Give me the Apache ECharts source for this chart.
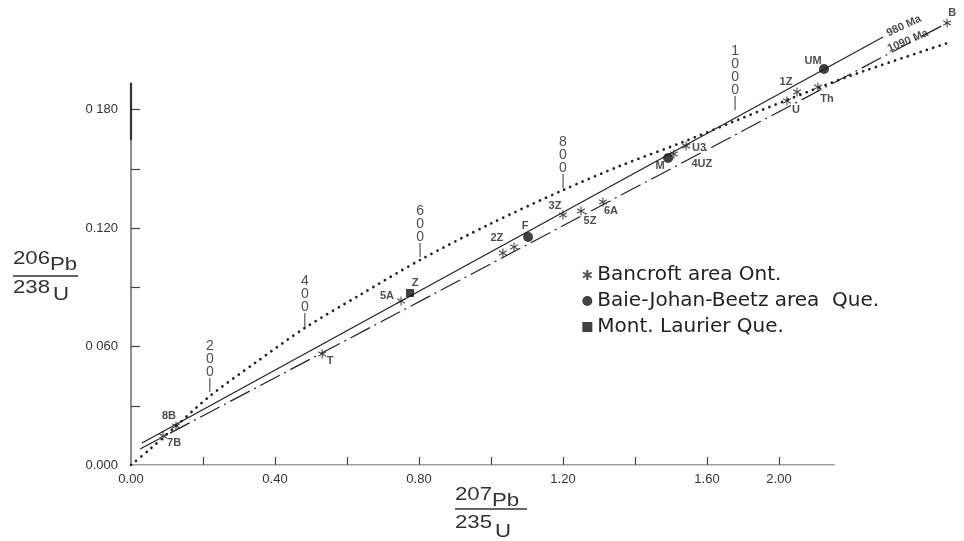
<!DOCTYPE html>
<html><head><meta charset="utf-8">
<script src="https://cdn.jsdelivr.net/npm/echarts@6/dist/echarts.min.js"></script>
<style>html,body{margin:0;padding:0;background:#fff}#c{width:964px;height:541px}</style>
</head><body><div id="c"></div>
<script>
// ---- axis ticks / labels ----
const xTickValues = [0.2, 0.4, 0.6, 0.8, 1.0, 1.2, 1.4, 1.6, 1.8];
const xLabelValues = [0, 0.4, 0.8, 1.2, 1.6, 1.8];
const xLabelTexts = ['0.00', '0.40', '0.80', '1.20', '1.60', '2.00'];
const yTickValues = [0.03, 0.06, 0.09, 0.12, 0.15, 0.18];
const yLabelValues = [0, 0.06, 0.12, 0.18];
const yLabelTexts = ['0.000', '0 060', '0.120', '0 180'];
const xAxisLineEnd = 1.955;
const yAxisLineEnd = 0.1935;
const yAxisThickStart = 0.1646;

// ---- data: Bancroft area Ont. (asterisks) ----
const bancroftNames = ['7B', '8B', 'T', '5A', '2Z', '', '3Z', '5Z', '6A', '4UZ', 'U3', 'U', '1Z', 'Th', 'B'];
const bancroftX = [0.089, 0.125, 0.531, 0.750, 1.033, 1.064, 1.200, 1.250, 1.311, 1.508, 1.542, 1.822, 1.850, 1.908, 2.267];
const bancroftY = [0.0147, 0.0197, 0.0562, 0.0830, 0.1073, 0.1104, 0.1266, 0.1286, 0.1332, 0.1575, 0.1615, 0.1843, 0.1889, 0.1914, 0.2238];

// ---- Baie-Johan-Beetz area Que. (circles) ----
const bjbNames = ['F', 'M', 'UM'];
const bjbX = [1.103, 1.492, 1.925];
const bjbY = [0.1154, 0.1554, 0.2005];

// ---- Mont. Laurier Que. (square) ----
const mlNames = ['Z'];
const mlX = [0.775];
const mlY = [0.0871];

// ---- concordia curve (dotted) ----
const concordiaX = [0, 0.053, 0.122, 0.219, 0.344, 0.483, 0.636, 0.803, 0.997, 1.200, 1.358, 1.533, 1.678, 1.822, 1.997, 2.269];
const concordiaY = [0, 0.0081, 0.0192, 0.0349, 0.0516, 0.0694, 0.0861, 0.1038, 0.1220, 0.1392, 0.1514, 0.1635, 0.1742, 0.1848, 0.1970, 0.2137];

// ---- age marks on concordia ----
const ageLabels = ['200', '400', '600', '800', '1000'];
const ageX = [0.219, 0.483, 0.803, 1.200, 1.678];
const ageY = [0.0370, 0.0699, 0.1053, 0.1403, 0.1797];

// ---- discordia chords ----
const chord980X = [0.0306, 2.089];
const chord980Y = [0.0111, 0.2167];
const chord1090X = [0.025, 2.267];
const chord1090Y = [0.0081, 0.2238];
const chordLabelTexts = ['980 Ma', '1090 Ma'];
const chordLabelX = [2.147, 2.158];
const chordLabelY = [0.2223, 0.2147];

// ---- styling (label offsets in px) ----
const labelOffsets = {
  '7B': [11, 7], '8B': [-7, -10], 'T': [8, 7], '5A': [-14, -5], '2Z': [-6, -15],
  '3Z': [-8, -9], '5Z': [9, 10], '6A': [8, 9], '4UZ': [28, 10], 'U3': [13, 2],
  'U': [9, 9], '1Z': [-11, -10], 'Th': [9, 12], 'B': [5, -10],
  'F': [-3, -11], 'M': [-8, 8], 'UM': [-11, -8], 'Z': [5, -10]
};
const FONT = "'Liberation Sans', Arial, sans-serif";
const INK = '#222';
const ASTER = 'path://M0,-5L0,5M-4.33,-2.5L4.33,2.5M-4.33,2.5L4.33,-2.5';

function zip(xs, ys) { return xs.map((x, i) => [x, ys[i]]); }
function pts(names, xs, ys) {
  return xs.map((x, i) => ({
    value: [x, ys[i]], name: names[i],
    label: { offset: labelOffsets[names[i]] || [0, 0] }
  }));
}
const ptLabel = {
  show: true, position: 'inside', formatter: p => p.name,
  fontFamily: FONT, fontWeight: 'bold', fontSize: 11, color: INK
};
function titleText(txt, left, top) {
  return { type: 'text', left: left, top: top, scaleX: 1.17, originX: 0,
    style: { text: txt, font: "19px " + FONT, fill: '#333' } };
}

const chart = echarts.init(document.getElementById('c'), null, { renderer: 'canvas' });
const option = {
  backgroundColor: '#fff',
  animation: false,
  grid: { left: 131, right: 5, top: 10.75, bottom: 76 },
  xAxis: {
    type: 'value', min: 0, max: 2.3,
    splitLine: { show: false },
    axisLine: { show: false },
    axisTick: { show: true, inside: true, length: 8, customValues: xTickValues, lineStyle: { color: '#444', width: 1.2 } },
    axisLabel: {
      customValues: xLabelValues, margin: 8,
      formatter: v => { const i = xLabelValues.findIndex(t => Math.abs(t - v) < 1e-6); return i >= 0 ? xLabelTexts[i] : ''; },
      fontFamily: FONT, fontSize: 13, color: '#333'
    }
  },
  yAxis: {
    type: 'value', min: 0, max: 0.23,
    splitLine: { show: false },
    axisLine: { show: false },
    axisTick: { show: true, inside: true, length: 9, customValues: yTickValues, lineStyle: { color: '#444', width: 1.2 } },
    axisLabel: {
      customValues: yLabelValues, margin: 13,
      formatter: v => { const i = yLabelValues.findIndex(t => Math.abs(t - v) < 1e-6); return i >= 0 ? yLabelTexts[i] : ''; },
      fontFamily: FONT, fontSize: 13, color: '#333'
    }
  },
  legend: {
    orient: 'vertical', left: 577, top: 260, itemGap: 6, itemWidth: 10, itemHeight: 10,
    textStyle: { fontFamily: "'DejaVu Sans', sans-serif", fontSize: 20, color: INK },
    data: [
      { name: 'Bancroft area Ont.', icon: ASTER },
      { name: 'Baie-Johan-Beetz area  Que.', icon: 'circle' },
      { name: 'Mont. Laurier Que.', icon: 'rect' }
    ],
    selectedMode: false
  },
  series: [
    {
      name: 'axes', type: 'line', silent: true, showSymbol: false,
      data: [[xAxisLineEnd, 0], [0, 0], [0, yAxisLineEnd]],
      lineStyle: { color: '#444', width: 1.2 }, z: 1
    },
    {
      name: 'axisTop', type: 'line', silent: true, showSymbol: false,
      data: [[0, yAxisThickStart], [0, yAxisLineEnd]],
      lineStyle: { color: '#333', width: 2.2 }, z: 1
    },
    {
      name: 'concordia', type: 'line', data: zip(concordiaX, concordiaY), smooth: 0.3,
      showSymbol: false, silent: true,
      lineStyle: { color: INK, width: 2.7, type: [0.1, 6.6], cap: 'round' }, z: 2
    },
    {
      name: '980 Ma', type: 'line', data: zip(chord980X, chord980Y), showSymbol: false, silent: true,
      lineStyle: { color: INK, width: 1.2 }, z: 2
    },
    {
      name: '1090 Ma', type: 'line', data: zip(chord1090X, chord1090Y), showSymbol: false, silent: true,
      lineStyle: { color: INK, width: 1.2, type: [22, 5, 2, 5] }, z: 2
    },
    {
      name: 'ages', type: 'scatter', symbolSize: 0, silent: true,
      data: ageX.map((x, i) => ({ value: [x, ageY[i]], name: ageLabels[i] })),
      label: {
        show: true, position: 'top', distance: 0,
        formatter: p => p.name.split('').join('\n') + '\n|',
        fontFamily: FONT, fontSize: 14, lineHeight: 13, color: INK, align: 'center'
      }
    },
    {
      name: 'chordLabels', type: 'scatter', symbolSize: 0, silent: true,
      data: chordLabelX.map((x, i) => ({ value: [x, chordLabelY[i]], name: chordLabelTexts[i],
        label: { rotate: i === 0 ? 25 : 23 } })),
      label: {
        show: true, position: 'inside', formatter: p => p.name,
        fontFamily: FONT, fontWeight: 'bold', fontSize: 11, color: INK
      }
    },
    {
      name: 'Bancroft area Ont.', type: 'scatter', symbol: ASTER, symbolSize: 9, symbolKeepAspect: true,
      itemStyle: { color: INK, borderColor: INK, borderWidth: 1.1 },
      data: pts(bancroftNames, bancroftX, bancroftY), label: ptLabel, z: 4
    },
    {
      name: 'Baie-Johan-Beetz area  Que.', type: 'scatter', symbol: 'circle', symbolSize: 10,
      itemStyle: { color: '#111' },
      data: pts(bjbNames, bjbX, bjbY), label: ptLabel, z: 4
    },
    {
      name: 'Mont. Laurier Que.', type: 'scatter', symbol: 'rect', symbolSize: 8,
      itemStyle: { color: '#111' },
      data: pts(mlNames, mlX, mlY), label: ptLabel, z: 4
    }
  ],
  graphic: [
    titleText('206', 13, 249),
    titleText('Pb', 50, 255),
    { type: 'line', shape: { x1: 13, y1: 276, x2: 78, y2: 276 }, style: { stroke: '#333', lineWidth: 1.3 } },
    titleText('238', 13, 278),
    titleText('U', 53, 285),

    titleText('207', 455, 485),
    titleText('Pb', 492, 491),
    { type: 'line', shape: { x1: 455, y1: 509, x2: 527, y2: 509 }, style: { stroke: '#333', lineWidth: 1.3 } },
    titleText('235', 455, 513),
    titleText('U', 495, 522)
  ]
};
chart.setOption(option);
</script>
</body></html>
